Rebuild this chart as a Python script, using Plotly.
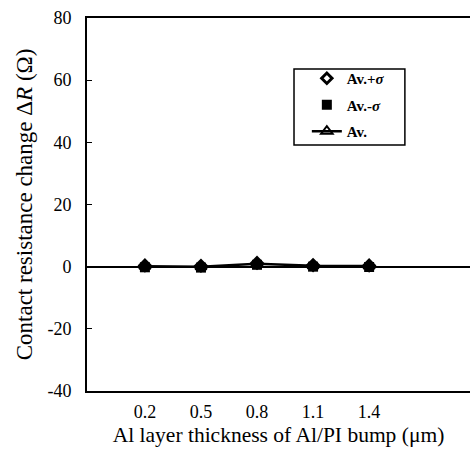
import plotly.graph_objects as go

thickness = [0.2, 0.5, 0.8, 1.1, 1.4]
av_plus = [0.4, 0.3, 1.2, 0.5, 0.4]
av_minus = [-0.2, -0.3, 0.6, 0.0, -0.1]
av = [0.1, 0.0, 0.9, 0.3, 0.2]
x_ticks = [0.2, 0.5, 0.8, 1.1, 1.4]
y_ticks = [-40, -20, 0, 20, 40, 60, 80]

fig = go.Figure()
fig.add_trace(go.Scatter(x=thickness, y=av_plus, mode="markers", name="<b>Av.+<i>σ</i></b>",
                         legendgroup="a",
                         marker=dict(symbol="diamond-open", size=8, color="black", line=dict(width=3, color="black"))))
fig.add_trace(go.Scatter(x=thickness, y=av_minus, mode="markers", name="<b>Av.-<i>σ</i></b>",
                         legendgroup="b",
                         marker=dict(symbol="square", size=10, color="black")))
fig.add_trace(go.Scatter(x=thickness, y=av, mode="lines+markers", name="<b>Av.</b>",
                         legendgroup="c",
                         line=dict(color="black", width=2.5),
                         marker=dict(symbol="triangle-up-open", size=10, color="black", line=dict(width=2, color="black"))))

font = "Liberation Serif, Times New Roman, serif"
fig.update_layout(
    width=470, height=456,
    margin=dict(l=87, r=0, t=18, b=65),
    plot_bgcolor="white", paper_bgcolor="white",
    font=dict(family=font, color="black", size=18),
    showlegend=True,
    legend=dict(x=0.574, y=0.882, xanchor="left", yanchor="top",
                borderwidth=0, bgcolor="rgba(0,0,0,0)",
                font=dict(size=15, family=font), itemwidth=30,
                traceorder="grouped", tracegroupgap=4),
    shapes=[dict(type="rect", xref="paper", yref="paper",
                 x0=0.5405, x1=0.830, y0=0.6595, y1=0.8633,
                 line=dict(color="black", width=1.5), fillcolor="rgba(0,0,0,0)", layer="above")],
    xaxis=dict(range=[-0.11, 1.94], tickvals=x_ticks, ticktext=[f"{v:.1f}" for v in x_ticks],
               showline=True, linecolor="black", linewidth=2, mirror=True,
               ticks="", showgrid=False, zeroline=False, ticklabelstandoff=3,
               title=dict(text="Al layer thickness of Al/PI bump (μm)", font=dict(size=21.5), standoff=6),
               tickfont=dict(size=18)),
    yaxis=dict(range=[-40, 80], tickvals=y_ticks, ticktext=[str(v) for v in y_ticks],
               showline=True, linecolor="black", linewidth=2,
               ticks="inside", ticklen=5, tickcolor="black", showgrid=False,
               zeroline=True, zerolinecolor="black", zerolinewidth=2, ticklabelstandoff=10,
               title=dict(text="Contact resistance change Δ<i>R</i> (Ω)", font=dict(size=23), standoff=8),
               tickfont=dict(size=18)),
)
fig.write_html("out.html")
